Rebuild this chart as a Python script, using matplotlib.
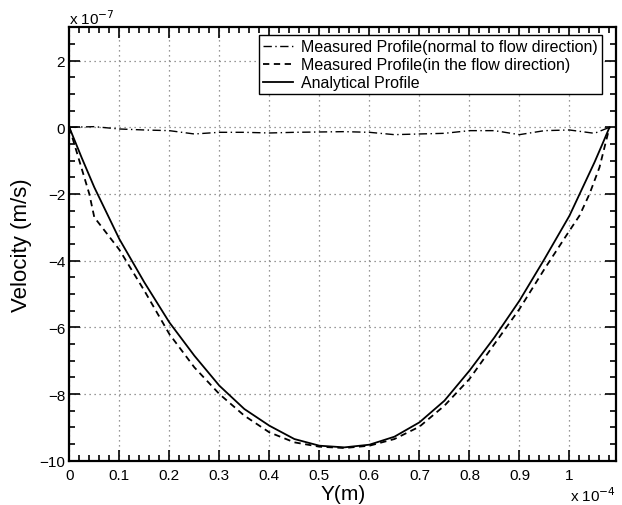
import matplotlib
matplotlib.use("Agg")
import matplotlib.pyplot as plt
from matplotlib.ticker import MultipleLocator, FuncFormatter
import numpy as np

plt.rcParams['font.family'] = ['Liberation Sans', 'DejaVu Sans']

# x in units of 1e-4 m, velocity in units of 1e-7 m/s
y_normal = [0, 0.05, 0.1, 0.15, 0.2, 0.25, 0.3, 0.35, 0.4, 0.45, 0.5, 0.55,
            0.6, 0.65, 0.7, 0.75, 0.8, 0.85, 0.9, 0.95, 1.0, 1.05, 1.08]
v_normal = [0, 0.02, -0.05, -0.08, -0.1, -0.2, -0.15, -0.15, -0.17, -0.15, -0.14, -0.13,
            -0.15, -0.22, -0.2, -0.18, -0.1, -0.1, -0.22, -0.1, -0.08, -0.18, 0]

y_flow = [0, 0.02, 0.04, 0.05, 0.1, 0.15, 0.2, 0.25, 0.3, 0.35, 0.4, 0.45, 0.5,
          0.55, 0.6, 0.65, 0.7, 0.75, 0.8, 0.85, 0.9, 0.95, 1.0, 1.02, 1.04, 1.06, 1.08]
v_flow = [0, -1.0, -2.0, -2.7, -3.67, -4.9, -6.2, -7.2, -8.0, -8.65, -9.15, -9.45, -9.58,
          -9.62, -9.55, -9.35, -8.98, -8.35, -7.55, -6.5, -5.45, -4.25, -3.1, -2.65, -2.0, -1.2, 0]

y_analytic = [0, 0.025, 0.05, 0.1, 0.15, 0.2, 0.25, 0.3, 0.35, 0.4, 0.45, 0.5, 0.55,
              0.6, 0.65, 0.7, 0.75, 0.8, 0.85, 0.9, 0.95, 1.0, 1.05, 1.065, 1.08]
v_analytic = [0, -0.92, -1.8, -3.35, -4.65, -5.85, -6.85, -7.75, -8.45, -8.95, -9.35, -9.55, -9.6,
              -9.52, -9.28, -8.85, -8.2, -7.3, -6.3, -5.2, -3.95, -2.65, -1.05, -0.53, 0]

labels = ['Measured Profile(normal to flow direction)',
          'Measured Profile(in the flow direction)',
          'Analytical Profile']

fig = plt.figure(figsize=(6.22, 5.06), dpi=100)
ax = fig.add_axes([69.3/622, 1-461.7/506, (616-69.3)/622, (461.7-28.3)/506])

ax.plot(y_normal, v_normal, color='black', linestyle=(0, (6, 2.5, 1, 2.5)), linewidth=1.0, label=labels[0])
ax.plot(y_flow, v_flow, color='black', linestyle=(0, (3.5, 2.5)), linewidth=1.3, label=labels[1])
ax.plot(y_analytic, v_analytic, color='black', linestyle='-', linewidth=1.3, label=labels[2])

ax.set_xlim(0, 1.093)
ax.set_ylim(-10, 3)

ax.xaxis.set_major_locator(MultipleLocator(0.1))
ax.xaxis.set_minor_locator(MultipleLocator(0.02))
ax.yaxis.set_major_locator(MultipleLocator(2))
ax.yaxis.set_minor_locator(MultipleLocator(0.5))
ax.xaxis.set_major_formatter(FuncFormatter(lambda v, p: '%g' % round(v, 3)))
ax.yaxis.set_major_formatter(FuncFormatter(lambda v, p: ('%g' % round(v, 3)).replace('-', '\u2212')))

ax.tick_params(which='both', direction='in', top=True, right=True, labelsize=11, width=1.2)
ax.tick_params(which='major', length=8)
ax.tick_params(which='minor', length=4.5)
ax.tick_params(axis='x', pad=5)
ax.tick_params(axis='y', pad=3)
for s in ax.spines.values():
    s.set_linewidth(1.6)

ax.grid(True, which='major', color='#777777', linestyle=(0, (1, 3)), linewidth=0.9)

ax.set_xlabel('Y(m)', fontsize=15, labelpad=2)
ax.set_ylabel('Velocity (m/s)', fontsize=16, labelpad=5)

leg = ax.legend(loc='upper right', bbox_to_anchor=(0.9744, 0.982), borderaxespad=0,
                fontsize=11.5, frameon=True, fancybox=False, framealpha=1,
                handlelength=1.9, handletextpad=0.5, labelspacing=0.2, borderpad=0.25)
leg.get_frame().set_edgecolor('black')
leg.get_frame().set_linewidth(1.0)

fig.text(69/622, 1-25/506, r'x 10$^{-7}$', fontsize=11, ha='left', va='baseline')
fig.text(616/622, 1-502/506, r'x 10$^{-4}$', fontsize=11, ha='right', va='baseline')

fig.savefig('out.png', dpi=100)
